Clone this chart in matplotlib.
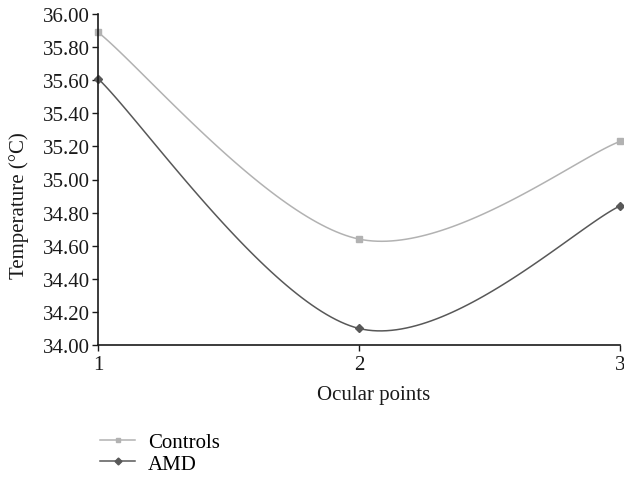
import numpy as np
import matplotlib
matplotlib.use("Agg")
import matplotlib.pyplot as plt

# data
ocular_points = [1, 2, 3]
controls = [35.89, 34.64, 35.23]
amd = [35.61, 34.10, 34.84]
y_ticks = [34.00, 34.20, 34.40, 34.60, 34.80, 35.00, 35.20, 35.40, 35.60, 35.80, 36.00]

plt.rcParams['font.family'] = ['Liberation Serif', 'DejaVu Serif']


def smooth(xs, ys, n=60):
    """Excel-style smoothed line (Catmull-Rom through the points)"""
    xs = np.asarray(xs, float)
    ys = np.asarray(ys, float)
    px = np.concatenate([[xs[0]], xs, [xs[-1]]])
    py = np.concatenate([[ys[0]], ys, [ys[-1]]])
    out_x, out_y = [], []
    t = np.linspace(0, 1, n)
    for i in range(1, len(px) - 2):
        p0x, p1x, p2x, p3x = px[i - 1:i + 3]
        p0y, p1y, p2y, p3y = py[i - 1:i + 3]
        # bezier control points
        c1x, c1y = p1x + (p2x - p0x) / 6, p1y + (p2y - p0y) / 6
        c2x, c2y = p2x - (p3x - p1x) / 6, p2y - (p3y - p1y) / 6
        bx = (1 - t) ** 3 * p1x + 3 * (1 - t) ** 2 * t * c1x + 3 * (1 - t) * t ** 2 * c2x + t ** 3 * p2x
        by = (1 - t) ** 3 * p1y + 3 * (1 - t) ** 2 * t * c1y + 3 * (1 - t) * t ** 2 * c2y + t ** 3 * p2y
        out_x.extend(bx)
        out_y.extend(by)
    return out_x, out_y


fig = plt.figure(figsize=(6.24, 4.81), dpi=100)
ax = fig.add_axes([98 / 624, 1 - 346 / 481, (620 - 98) / 624, (346 - 15) / 481])

c_ctrl = '#b2b2b2'
c_amd = '#585858'
fs = 15

sx, sy = smooth(ocular_points, controls)
ax.plot(sx, sy, color=c_ctrl, lw=1.1, clip_on=False)
ax.plot(ocular_points, controls, ls='none', marker='s', ms=4.5, color=c_ctrl, clip_on=False)
sx, sy = smooth(ocular_points, amd)
ax.plot(sx, sy, color=c_amd, lw=1.1, clip_on=False)
ax.plot(ocular_points, amd, ls='none', marker='D', ms=4.5, color=c_amd, clip_on=False)

# legend handles
ax.plot([], [], color=c_ctrl, lw=1.1, marker='s', ms=3.5, label='Controls')
ax.plot([], [], color=c_amd, lw=1.1, marker='D', ms=3.5, label='AMD')
handles, labels = ax.get_legend_handles_labels()
fig.legend(handles, labels, loc='upper left', bbox_to_anchor=(92 / 624, 1 - 425 / 481),
           frameon=False, fontsize=fs, handlelength=1.65, handletextpad=0.65,
           labelspacing=0.1, borderaxespad=0)

ax.set_xlim(1, 3)
ax.set_ylim(34, 36)
ax.set_xticks(ocular_points)
ax.set_yticks(y_ticks)
ax.set_yticklabels([f'{v:.2f}' for v in y_ticks])
ax.tick_params(axis='both', labelsize=fs, direction='out', length=4, width=1, colors='#1a1a1a', pad=2)
ax.tick_params(axis='x', pad=3)
ax.spines['top'].set_visible(False)
ax.spines['right'].set_visible(False)
for s in ['left', 'bottom']:
    ax.spines[s].set_linewidth(1.2)
    ax.spines[s].set_color('#1a1a1a')

ax.set_xlabel('Ocular points', fontsize=fs, color='#1a1a1a')
ax.set_ylabel('Temperature (°C)', fontsize=fs, color='#1a1a1a')
ax.xaxis.set_label_coords((374 - 98) / 522, -(386 - 346) / 331)
ax.yaxis.set_label_coords(-(98 - 29) / 522, (346 - 206) / 331)

fig.savefig('out.png', dpi=100)
